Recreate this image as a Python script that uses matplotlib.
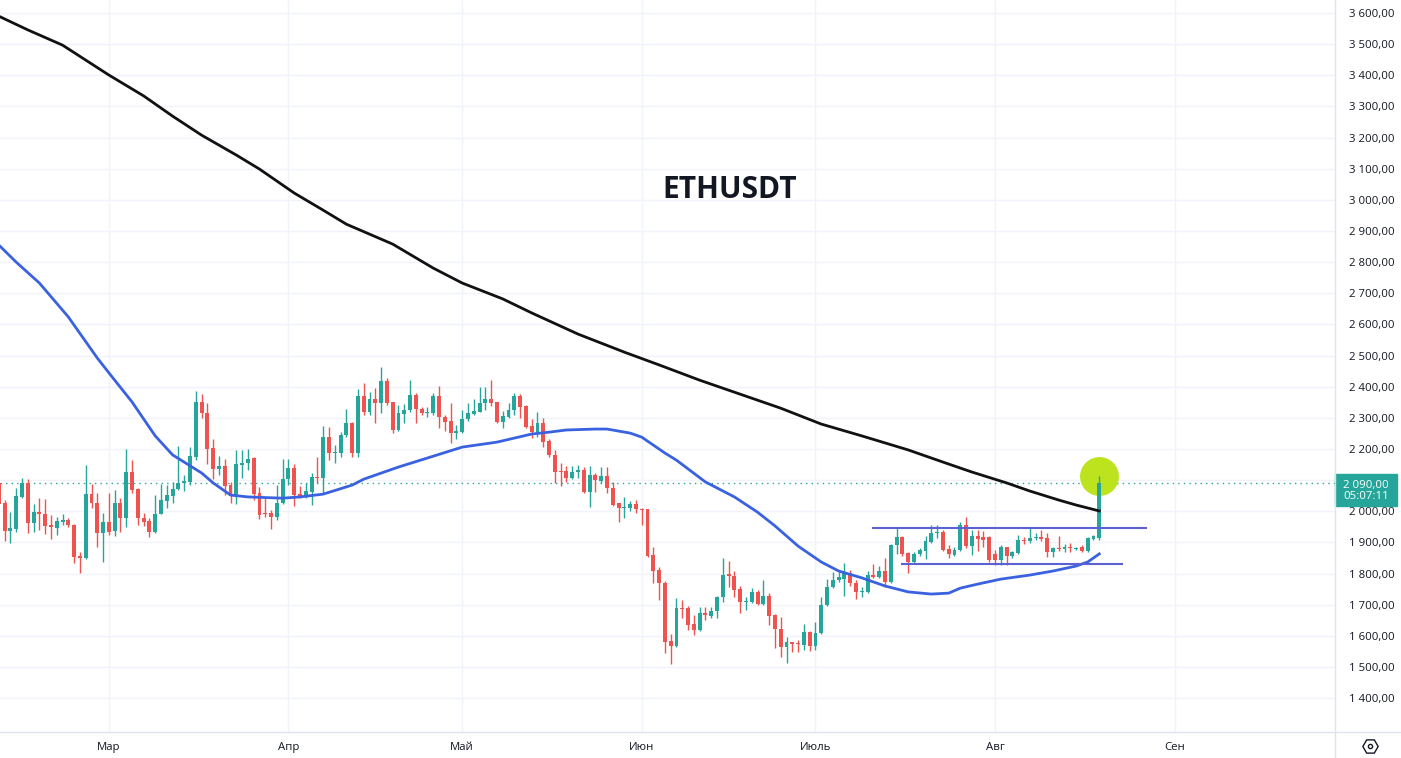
import numpy as np
import pandas as pd
import matplotlib
matplotlib.use('Agg')
import matplotlib.pyplot as plt
import matplotlib.dates as mdates
from matplotlib.patches import Rectangle
from matplotlib.lines import Line2D
from matplotlib.transforms import blended_transform_factory

plt.rcParams['font.family'] = ['Open Sans', 'DejaVu Sans']

# daily candles, ETHUSDT
dates = pd.date_range('2023-02-10', periods=191, freq='D')

opens = [2091, 2026, 1936, 1943, 2046, 2091, 1962, 1997, 1991, 1956,
         1946, 1965, 1972, 1956, 1856, 1850, 2055, 2026, 1930, 1965,
         1936, 2026, 1978, 2126, 2071, 1978, 1969, 1933, 1991, 2033,
         2049, 2071, 2091, 2094, 2174, 2351, 2315, 2203, 2136, 2145,
         2084, 2049, 2148, 2155, 2171, 2058, 1994, 1994, 1981, 2026,
         2103, 2139, 2055, 2046, 2062, 2110, 2107, 2238, 2187, 2187,
         2245, 2283, 2187, 2370, 2318, 2360, 2347, 2418, 2351, 2261,
         2312, 2325, 2373, 2328, 2315, 2315, 2370, 2302, 2290, 2251,
         2254, 2296, 2312, 2318, 2347, 2360, 2351, 2286, 2302, 2325,
         2370, 2338, 2273, 2254, 2283, 2225, 2180, 2129, 2129, 2107,
         2126, 2132, 2062, 2116, 2097, 2113, 2075, 2026, 2010, 2010,
         2023, 2007, 2007, 1859, 1811, 1770, 1583, 1567, 1689, 1689,
         1638, 1619, 1673, 1664, 1680, 1725, 1799, 1792, 1750, 1708,
         1708, 1741, 1702, 1728, 1667, 1622, 1564, 1580, 1577, 1570,
         1612, 1567, 1609, 1699, 1757, 1779, 1782, 1802, 1770, 1741,
         1741, 1795, 1789, 1808, 1773, 1891, 1917, 1866, 1837, 1862,
         1872, 1901, 1930, 1933, 1879, 1859, 1875, 1956, 1888, 1920,
         1917, 1917, 1862, 1843, 1885, 1856, 1866, 1907, 1904, 1914,
         1917, 1914, 1869, 1882, 1879, 1885, 1879, 1885, 1872, 1911,
         1914]
highs = [2106, 2036, 1997, 2075, 2107, 2103, 2023, 2042, 2039, 1988,
         1981, 1991, 1978, 1959, 1869, 2148, 2087, 2058, 1994, 2058,
         2068, 2042, 2200, 2164, 2075, 1994, 1978, 2052, 2087, 2084,
         2094, 2209, 2116, 2206, 2386, 2376, 2347, 2232, 2177, 2168,
         2094, 2197, 2197, 2200, 2174, 2078, 2042, 2004, 2084, 2168,
         2168, 2152, 2081, 2091, 2123, 2174, 2273, 2270, 2213, 2255,
         2328, 2287, 2392, 2412, 2383, 2396, 2463, 2428, 2351, 2341,
         2344, 2421, 2380, 2335, 2335, 2380, 2402, 2309, 2347, 2277,
         2325, 2347, 2360, 2399, 2399, 2421, 2351, 2322, 2347, 2380,
         2376, 2341, 2296, 2318, 2299, 2232, 2197, 2155, 2145, 2145,
         2148, 2142, 2145, 2123, 2142, 2142, 2094, 2026, 2046, 2033,
         2036, 2010, 2007, 1885, 1821, 1776, 1606, 1721, 1715, 1696,
         1667, 1692, 1692, 1692, 1728, 1850, 1840, 1808, 1760, 1725,
         1753, 1747, 1779, 1738, 1670, 1660, 1596, 1580, 1587, 1638,
         1615, 1644, 1725, 1782, 1805, 1805, 1834, 1811, 1779, 1757,
         1808, 1831, 1824, 1850, 1895, 1946, 1920, 1869, 1869, 1882,
         1920, 1956, 1956, 1940, 1891, 1885, 1965, 1981, 1940, 1940,
         1936, 1920, 1875, 1891, 1885, 1872, 1924, 1917, 1946, 1930,
         1940, 1930, 1885, 1920, 1895, 1898, 1885, 1891, 1917, 1924,
         2113]
lows = [2004, 1904, 1898, 1933, 2042, 1930, 1933, 1940, 1927, 1911,
        1924, 1956, 1949, 1834, 1802, 1847, 2010, 1885, 1837, 1924,
        1920, 1933, 1949, 2058, 1956, 1952, 1917, 1930, 1991, 2010,
        2026, 2068, 2065, 2084, 2164, 2299, 2152, 2103, 2116, 2052,
        2026, 2023, 2107, 2132, 2036, 1975, 1981, 1943, 1972, 2023,
        2084, 2017, 2042, 2042, 2020, 2091, 2058, 2164, 2155, 2174,
        2238, 2174, 2174, 2309, 2309, 2283, 2315, 2341, 2251, 2258,
        2283, 2318, 2283, 2309, 2302, 2309, 2267, 2258, 2219, 2232,
        2251, 2290, 2309, 2318, 2325, 2338, 2283, 2267, 2299, 2309,
        2299, 2267, 2235, 2238, 2206, 2174, 2091, 2081, 2094, 2103,
        2107, 2058, 2013, 2062, 2091, 2058, 2017, 1965, 1978, 2001,
        1994, 1956, 1853, 1770, 1715, 1545, 1509, 1564, 1657, 1619,
        1603, 1615, 1651, 1657, 1657, 1708, 1757, 1725, 1673, 1683,
        1705, 1699, 1699, 1635, 1561, 1532, 1513, 1548, 1548, 1554,
        1551, 1554, 1606, 1696, 1753, 1773, 1728, 1760, 1718, 1725,
        1738, 1786, 1786, 1757, 1770, 1862, 1856, 1802, 1834, 1856,
        1847, 1898, 1914, 1872, 1850, 1856, 1872, 1882, 1859, 1872,
        1885, 1837, 1827, 1827, 1827, 1850, 1862, 1895, 1898, 1907,
        1904, 1853, 1853, 1872, 1869, 1869, 1875, 1869, 1869, 1907,
        1907]
closes = [2023, 1936, 1946, 2049, 2091, 1962, 1997, 1991, 1952, 1949,
          1969, 1972, 1956, 1853, 1850, 2055, 2026, 1930, 1965, 1933,
          2026, 1978, 2126, 2068, 1978, 1965, 1933, 1991, 2036, 2052,
          2071, 2091, 2097, 2177, 2351, 2315, 2200, 2136, 2145, 2081,
          2049, 2152, 2155, 2168, 2055, 1988, 1991, 1981, 2026, 2103,
          2139, 2052, 2046, 2065, 2110, 2107, 2238, 2187, 2190, 2245,
          2283, 2187, 2370, 2318, 2360, 2347, 2418, 2347, 2261, 2315,
          2325, 2373, 2328, 2315, 2318, 2370, 2302, 2286, 2251, 2258,
          2296, 2315, 2322, 2347, 2360, 2347, 2286, 2306, 2325, 2370,
          2335, 2270, 2254, 2283, 2222, 2180, 2126, 2126, 2107, 2126,
          2132, 2062, 2116, 2100, 2113, 2075, 2020, 2010, 2013, 2023,
          2007, 2004, 1856, 1808, 1770, 1580, 1567, 1689, 1687, 1635,
          1619, 1673, 1667, 1680, 1725, 1795, 1792, 1747, 1708, 1712,
          1741, 1702, 1728, 1664, 1622, 1564, 1580, 1574, 1574, 1612,
          1567, 1609, 1699, 1757, 1779, 1789, 1802, 1770, 1741, 1744,
          1795, 1789, 1808, 1773, 1891, 1917, 1862, 1837, 1862, 1875,
          1904, 1930, 1933, 1875, 1862, 1875, 1956, 1888, 1920, 1911,
          1907, 1843, 1843, 1885, 1856, 1869, 1907, 1904, 1914, 1917,
          1911, 1869, 1882, 1879, 1885, 1882, 1882, 1872, 1914, 1920,
          2090]

# moving averages
ma200_dates = ['2023-02-10', '2023-02-15', '2023-02-21', '2023-02-25', '2023-03-01',
               '2023-03-07', '2023-03-12', '2023-03-17', '2023-03-23', '2023-03-27',
               '2023-04-02', '2023-04-07', '2023-04-11', '2023-04-19', '2023-04-26',
               '2023-05-01', '2023-05-08', '2023-05-13', '2023-05-21', '2023-05-29',
               '2023-06-04', '2023-06-11', '2023-06-18', '2023-06-25', '2023-07-02',
               '2023-07-09', '2023-07-17', '2023-07-23', '2023-07-28', '2023-08-03',
               '2023-08-07', '2023-08-12', '2023-08-15', '2023-08-19']
ma200_vals = [3590, 3546, 3497, 3449, 3401, 3334, 3269, 3208, 3144, 3099,
              3022, 2967, 2922, 2858, 2781, 2733, 2682, 2637, 2569, 2511,
              2470, 2421, 2376, 2331, 2280, 2242, 2197, 2158, 2126, 2091,
              2065, 2036, 2020, 2001]

ma50_dates = ['2023-02-10', '2023-02-13', '2023-02-17', '2023-02-22', '2023-02-27',
              '2023-03-02', '2023-03-05', '2023-03-09', '2023-03-12', '2023-03-17',
              '2023-03-19', '2023-03-22', '2023-03-25', '2023-03-31', '2023-04-03',
              '2023-04-07', '2023-04-12', '2023-04-14', '2023-04-20', '2023-04-25',
              '2023-05-01', '2023-05-07', '2023-05-10', '2023-05-13', '2023-05-16',
              '2023-05-19', '2023-05-24', '2023-05-26', '2023-05-30', '2023-06-01',
              '2023-06-05', '2023-06-07', '2023-06-12', '2023-06-17', '2023-06-21',
              '2023-06-24', '2023-06-28', '2023-07-02', '2023-07-05', '2023-07-09',
              '2023-07-13', '2023-07-17', '2023-07-21', '2023-07-24', '2023-07-26',
              '2023-07-29', '2023-08-02', '2023-08-07', '2023-08-11', '2023-08-15',
              '2023-08-17', '2023-08-19']
ma50_vals = [2855, 2800, 2733, 2624, 2492, 2421, 2351, 2242, 2181, 2123,
             2091, 2052, 2046, 2042, 2046, 2055, 2084, 2103, 2142, 2171,
             2206, 2222, 2235, 2248, 2254, 2261, 2264, 2264, 2251, 2238,
             2187, 2164, 2094, 2046, 1997, 1953, 1888, 1837, 1808, 1786,
             1760, 1741, 1734, 1737, 1753, 1766, 1782, 1795, 1808, 1824,
             1837, 1863]

# range drawings
upper_line = (['2023-07-11', '2023-08-27'], 1946)
lower_line = (['2023-07-16', '2023-08-23'], 1830)

month_starts = pd.date_range('2023-03-01', '2023-09-01', freq='MS')
month_labels = ['Мар', 'Апр', 'Май', 'Июн', 'Июль', 'Авг', 'Сен']
price_ticks = list(range(1400, 3700, 100))
countdown = '05:07:11'

GREEN = '#26a69a'
RED = '#ef5350'
TXT = '#131722'
GRID = '#f0f3fa'
BORDER = '#e0e3eb'


def fmt(v):
    return f'{v:,.2f}'.replace(',', ' ').replace('.', ',')


W, H = 1401, 758
fig = plt.figure(figsize=(W / 100, H / 100), dpi=100)
ax = fig.add_axes([0, 26 / H, 1335 / W, 1 - 26 / H])

x = mdates.date2num(dates)
o, hi, lo, c = map(np.array, (opens, highs, lows, closes))
col = np.where(c >= o, GREEN, RED)

# highlight circle on the breakout candle
ax.plot(x[-1], hi[-1], 'o', ms=28, mfc='#bde31e', mec='none', zorder=2)

ax.vlines(x, lo, hi, colors=col, lw=1, zorder=3)
ax.bar(x, np.maximum(np.abs(c - o), 2.5), bottom=np.minimum(o, c), width=0.68,
       color=col, lw=0, zorder=3)

ax.plot(mdates.date2num(pd.to_datetime(ma200_dates)), ma200_vals, color='#111111', lw=2, zorder=4)
ax.plot(mdates.date2num(pd.to_datetime(ma50_dates)), ma50_vals, color='#3a62e0', lw=2, zorder=4)

for d, v in (upper_line, lower_line):
    ax.plot(mdates.date2num(pd.to_datetime(d)), [v, v], color='#5b60d3', lw=1.5, zorder=4)

last = closes[-1]
ax.axhline(last, color=GREEN, lw=1, ls=(0, (1, 3)), zorder=1)

base = mdates.date2num(pd.Timestamp('2023-03-01'))
ax.set_xlim(base - 18.8, base + 211.7)
y0, y1 = 1291, 3642
ax.set_ylim(y0, y1)

ax.set_xticks(mdates.date2num(month_starts))
ax.set_xticklabels(month_labels)
ax.set_yticks(price_ticks)
# the scale label hidden under the last-price badge is left blank
ax.set_yticklabels([fmt(v) if abs(v - last) > 60 else '' for v in price_ticks])
ax.yaxis.tick_right()
ax.tick_params(axis='x', length=0, pad=7, labelsize=8.2, labelcolor=TXT)
ax.tick_params(axis='y', length=0, pad=10, labelsize=8.2, labelcolor=TXT)
ax.grid(color=GRID, lw=1)
ax.set_axisbelow(True)
for s in ax.spines.values():
    s.set_visible(False)

# last price label on the scale
ppu = (H - 26) / (y1 - y0)
tr = blended_transform_factory(ax.transAxes, ax.transData)
ax.add_patch(Rectangle((1, last - 23 / ppu), 62 / 1335, 32 / ppu, transform=tr,
                       color=GREEN, clip_on=False, zorder=6))
ax.text(1 + 31 / 1335, last - 7.5 / ppu, fmt(last) + '\n' + countdown, transform=tr,
        ha='center', va='center', ma='center', linespacing=1.05,
        color='white', fontsize=8.2, zorder=7, clip_on=False)

fig.text(730 / W, 1 - 190 / H, 'ETHUSDT', ha='center', va='center',
         fontsize=21.5, fontweight='bold', color=TXT)

fig.add_artist(Line2D([1335 / W] * 2, [0, 1], transform=fig.transFigure, color=BORDER, lw=1))
fig.add_artist(Line2D([0, 1], [26 / H] * 2, transform=fig.transFigure, color=BORDER, lw=1))
fig.add_artist(Line2D([1370 / W], [1 - 746 / H], marker='H', ms=11, mfc='none', mec=TXT,
                      mew=1, transform=fig.transFigure))
fig.add_artist(Line2D([1370 / W], [1 - 746 / H], marker='o', ms=3, mfc='none', mec=TXT,
                      mew=1, transform=fig.transFigure))

fig.savefig('out.png', dpi=100, facecolor='white')
